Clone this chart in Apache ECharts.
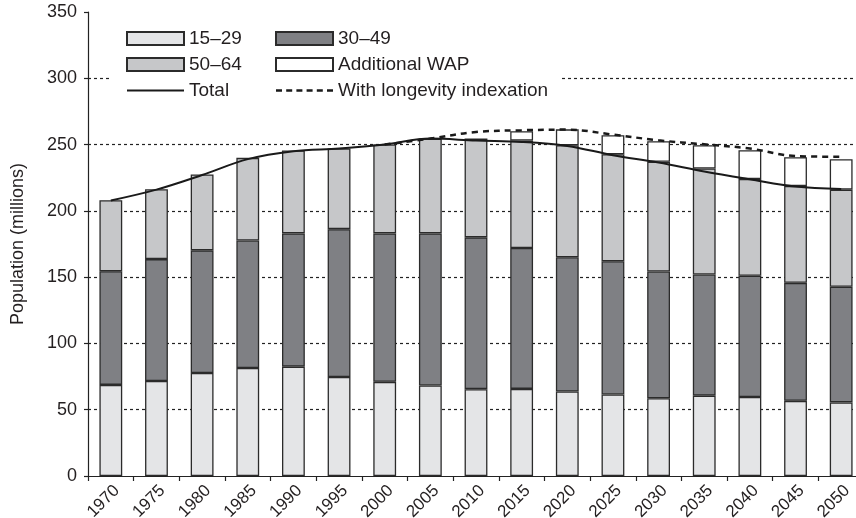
<!DOCTYPE html>
<html>
<head>
<meta charset="utf-8">
<script src="https://cdn.jsdelivr.net/npm/echarts@6/dist/echarts.min.js"></script>
<style>html,body{margin:0;padding:0;background:#fff}#c{width:856px;height:518px}</style>
</head>
<body>
<div id="c"></div>
<script>
var years = ['1970','1975','1980','1985','1990','1995','2000','2005','2010','2015','2020','2025','2030','2035','2040','2045','2050'];
var age15_29 = [68.7, 71.7, 77.7, 81.5, 82.5, 74.7, 71.0, 68.3, 65.5, 65.7, 63.7, 61.5, 58.7, 60.6, 59.6, 56.7, 55.5];
var age30_49 = [85.8, 91.9, 92.5, 96.1, 100.5, 111.5, 112.0, 114.7, 114.5, 106.3, 101.3, 100.5, 95.5, 91.4, 91.4, 89.0, 87.2];
var age50_64 = [53.5, 52.7, 57.3, 62.4, 62.5, 60.8, 67.0, 71.5, 74.5, 81.0, 84.5, 80.7, 82.8, 80.0, 73.0, 73.0, 73.3];
var additionalWAP = [null, null, null, null, null, null, null, null, null, 7.0, 12.0, 14.3, 15.5, 17.5, 21.7, 21.8, 23.0];
var total = [207.8, 216.0, 227.0, 239.0, 245.0, 247.0, 250.0, 254.5, 253.0, 252.0, 249.0, 242.0, 236.5, 229.7, 223.8, 218.3, 216.5];
var longevity = [null, null, null, null, null, null, 250.0, 254.5, 259.5, 260.8, 261.3, 257.5, 253.2, 250.2, 247.0, 241.3, 240.8];
var yTicks = {min: 0, max: 350, interval: 50};

var FONT = '"Liberation Sans", Arial, Helvetica, sans-serif';
var TXT = '#231f20';
var border = {borderColor: '#2b2b2b', borderWidth: 1.3};

var solidIcon = 'path://M0,0h57v2.2H0z';
var dashedIcon = 'path://M0,0h6v2.5H0z M10.2,0h6v2.5h-6z M20.4,0h6v2.5h-6z M30.6,0h6v2.5h-6z M40.8,0h6v2.5h-6z M51,0h6v2.5h-6z';

var chart = echarts.init(document.getElementById('c'), null, {renderer: 'canvas'});
chart.setOption({
  animation: false,
  backgroundColor: '#fff',
  textStyle: {fontFamily: FONT, color: TXT},
  grid: {left: 88, top: 12, width: 776, height: 464, containLabel: false, outerBoundsMode: 'none'},
  graphic: [{type: 'rect', shape: {x: 111, y: 24, width: 451, height: 80}, style: {fill: '#fff'}, z: 3, silent: true}],
  legend: [
    {data: [{name: '15–29', icon: 'rect'}, {name: '50–64', icon: 'rect'}, {name: 'Total', icon: solidIcon}],
     orient: 'vertical', left: 126, top: 29, padding: 0,
     itemWidth: 57, itemHeight: 13, itemGap: 7, z: 5,
     textStyle: {fontSize: 19, color: TXT, fontFamily: FONT}},
    {data: [{name: '30–49', icon: 'rect'}, {name: 'Additional WAP', icon: 'rect'}, {name: 'With longevity indexation', icon: dashedIcon}],
     orient: 'vertical', left: 275, top: 29, padding: 0,
     itemWidth: 57, itemHeight: 13, itemGap: 7, z: 5,
     textStyle: {fontSize: 19, color: TXT, fontFamily: FONT}}
  ],
  xAxis: {
    type: 'category', data: years, boundaryGap: true,
    axisLine: {lineStyle: {color: '#222', width: 1.2}},
    axisTick: {show: true, length: 5, lineStyle: {color: '#222', width: 1.2}},
    axisLabel: {rotate: 45, fontSize: 17, color: TXT, margin: 6, verticalAlign: 'top', fontFamily: FONT},
    splitLine: {show: false}
  },
  yAxis: {
    type: 'value', min: yTicks.min, max: yTicks.max, interval: yTicks.interval,
    name: 'Population (millions)', nameLocation: 'middle', nameGap: 61, nameRotate: 90,
    nameTextStyle: {fontSize: 18, color: TXT, fontFamily: FONT},
    axisLine: {show: true, lineStyle: {color: '#222', width: 1.2}},
    axisTick: {show: true, length: 4, lineStyle: {color: '#222', width: 1.2}},
    axisLabel: {fontSize: 18, color: TXT, margin: 11, fontFamily: FONT},
    splitLine: {show: true, showMaxLine: false, showMinLine: false, lineStyle: {color: '#222', type: [3, 3], width: 1.2}}
  },
  series: [
    {name: '15–29', type: 'bar', stack: 'a', barWidth: '50%', data: age15_29, itemStyle: Object.assign({color: '#e4e5e7'}, border)},
    {name: '30–49', type: 'bar', stack: 'a', data: age30_49, itemStyle: Object.assign({color: '#7f8084'}, border)},
    {name: '50–64', type: 'bar', stack: 'a', data: age50_64, itemStyle: Object.assign({color: '#c6c7c9'}, border)},
    {name: 'Additional WAP', type: 'bar', stack: 'a', data: additionalWAP, itemStyle: Object.assign({color: '#ffffff'}, border)},
    {name: 'Total', type: 'line', data: total, smooth: 0.35, symbol: 'none', z: 6,
     lineStyle: {color: '#1a1a1a', width: 2}, itemStyle: {color: '#1a1a1a'}},
    {name: 'With longevity indexation', type: 'line', data: longevity, smooth: 0.35, symbol: 'none', z: 6,
     lineStyle: {color: '#1a1a1a', width: 2.5, type: [6, 5]}, itemStyle: {color: '#1a1a1a'}}
  ]
});
</script>
</body>
</html>
